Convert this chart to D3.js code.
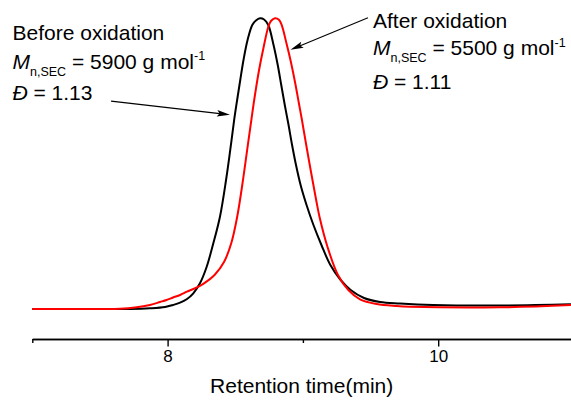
<!DOCTYPE html>
<html>
<head>
<meta charset="utf-8">
<script src="https://cdn.jsdelivr.net/npm/d3@7"></script>
<style>
  html, body { margin: 0; padding: 0; background: #fff; }
  svg { display: block; font-family: "Liberation Sans", Arial, sans-serif; }
</style>
</head>
<body>
<svg id="chart" width="571" height="406"></svg>
<script>
// ---- data ----
const timeBefore = [7.000, 7.500, 7.722, 7.870, 7.981, 8.040, 8.092, 8.141, 8.190, 8.239, 8.289, 8.338, 8.387, 8.432, 8.463, 8.492, 8.514, 8.537, 8.561, 8.591, 8.626, 8.653, 8.683, 8.713, 8.744, 8.783, 8.814, 8.840, 8.866, 8.894, 8.920, 8.949, 8.983, 9.027, 9.078, 9.137, 9.203, 9.279, 9.353, 9.452, 9.570, 9.718, 9.962, 10.457, 10.981];
const intensityBefore = [0.000, 0.000, 0.000, 0.0024, 0.0069, 0.0138, 0.0217, 0.0334, 0.0540, 0.0884, 0.1455, 0.2260, 0.3175, 0.4438, 0.5470, 0.6502, 0.7190, 0.7878, 0.8566, 0.9254, 0.9770, 0.9924, 1.000, 0.9959, 0.9770, 0.9082, 0.8394, 0.7706, 0.7018, 0.6330, 0.5642, 0.4954, 0.4266, 0.3578, 0.2890, 0.2202, 0.1514, 0.0998, 0.0654, 0.0378, 0.0241, 0.0189, 0.0138, 0.0120, 0.0162];

const timeAfter = [7.000, 7.500, 7.648, 7.759, 7.870, 7.944, 7.992, 8.040, 8.092, 8.143, 8.217, 8.269, 8.347, 8.417, 8.471, 8.514, 8.554, 8.593, 8.619, 8.640, 8.676, 8.710, 8.744, 8.764, 8.794, 8.823, 8.843, 8.878, 8.908, 8.943, 8.970, 8.993, 9.022, 9.064, 9.098, 9.123, 9.182, 9.259, 9.336, 9.422, 9.545, 9.693, 9.792, 10.457, 10.981];
const intensityAfter = [0.000, 0.000, 0.0010, 0.0052, 0.0138, 0.0241, 0.0310, 0.0396, 0.0482, 0.0595, 0.0746, 0.0884, 0.1170, 0.1617, 0.2270, 0.3164, 0.4334, 0.5641, 0.6502, 0.7190, 0.8222, 0.9013, 0.9701, 0.9907, 1.000, 0.9948, 0.9770, 0.9151, 0.8566, 0.7775, 0.7086, 0.6502, 0.5710, 0.4609, 0.3750, 0.3164, 0.2133, 0.1170, 0.0654, 0.0334, 0.0172, 0.0103, 0.0079, 0.0058, 0.0138];

const majorTicks = [8, 10];
const minorTicks = [7, 9, 11];
const xTitle = "Retention time(min)";

const beforeLabel = ["Before oxidation", "5900", "1.13"];
const afterLabel = ["After oxidation", "5500", "1.11"];
// arrows: [startTime, startIntensity, tipTime, tipIntensity]
const arrowBefore = [7.582, 0.715, 8.461, 0.668];
const arrowAfter = [9.481, 1.002, 8.908, 0.892];

// ---- drawing ----
const svg = d3.select("#chart");
const x = d3.scaleLinear().domain([7, 11]).range([32.3, 573.5]);
const y = d3.scaleLinear().domain([0, 1]).range([309, 18.3]);
const axisY = 339;

const line = d3.line()
  .x(d => x(d[0])).y(d => y(d[1]))
  .curve(d3.curveCatmullRom.alpha(0.5));

const before = timeBefore.map((t, i) => [t, intensityBefore[i]]);
const after = timeAfter.map((t, i) => [t, intensityAfter[i]]);

svg.append("path").datum(before).attr("d", line)
  .attr("fill", "none").attr("stroke", "#000").attr("stroke-width", 2);
svg.append("path").datum(after).attr("d", line)
  .attr("fill", "none").attr("stroke", "#ff0000").attr("stroke-width", 2);

// axis
const gMinor = svg.append("g").attr("transform", `translate(0,${axisY})`)
  .call(d3.axisBottom(x).tickValues(minorTicks).tickSize(4).tickSizeOuter(0).tickFormat(""));
const gMajor = svg.append("g").attr("transform", `translate(0,${axisY})`)
  .call(d3.axisBottom(x).tickValues(majorTicks).tickSize(7.5).tickSizeOuter(0).tickPadding(3).tickFormat(d3.format("d")));
[gMinor, gMajor].forEach(g => {
  g.select(".domain").attr("stroke", "#000").attr("stroke-width", 1.4);
  g.selectAll(".tick line").attr("stroke", "#000").attr("stroke-width", 1.4);
  g.selectAll(".tick text").attr("fill", "#000").attr("font-size", 17)
    .attr("font-family", "Liberation Sans, Arial, sans-serif");
});

svg.append("text").attr("x", (x(7) + 571) / 2).attr("y", 393)
  .attr("text-anchor", "middle").attr("font-size", 21).attr("fill", "#000")
  .text(xTitle);

// annotations
function block(x0, ys, lab) {
  const t1 = svg.append("text").attr("x", x0).attr("y", ys[0]).attr("font-size", 21).attr("fill", "#000");
  t1.text(lab[0]);
  const t2 = svg.append("text").attr("x", x0).attr("y", ys[1]).attr("font-size", 21).attr("fill", "#000");
  t2.append("tspan").attr("font-style", "italic").text("M");
  t2.append("tspan").attr("font-size", 12.5).attr("dy", 7).text("n,SEC");
  t2.append("tspan").attr("dy", -7).text(" = " + lab[1] + " g mol");
  t2.append("tspan").attr("font-size", 12.5).attr("dy", -8.5).text("-1");
  const t3 = svg.append("text").attr("x", x0).attr("y", ys[2]).attr("font-size", 21).attr("fill", "#000");
  t3.append("tspan").attr("font-style", "italic").text("\u0110");
  t3.append("tspan").text(" = " + lab[2]);
}
block(12.5, [40, 68.5, 100], beforeLabel);
block(373, [27.5, 55, 88.5], afterLabel);

function arrow(a) {
  const x1 = x(a[0]), y1 = y(a[1]), x2 = x(a[2]), y2 = y(a[3]);
  const ang = Math.atan2(y2 - y1, x2 - x1) * 180 / Math.PI;
  const len = Math.hypot(x2 - x1, y2 - y1);
  svg.append("line").attr("x1", x1).attr("y1", y1)
    .attr("x2", x1 + (x2 - x1) * (len - 8) / len).attr("y2", y1 + (y2 - y1) * (len - 8) / len)
    .attr("stroke", "#000").attr("stroke-width", 1.1);
  svg.append("path").attr("d", "M0,0 L-13,-3.3 L-10.5,0 L-13,3.3 Z")
    .attr("fill", "#000")
    .attr("transform", `translate(${x2},${y2}) rotate(${ang})`);
}
arrow(arrowBefore);
arrow(arrowAfter);
</script>
</body>
</html>
